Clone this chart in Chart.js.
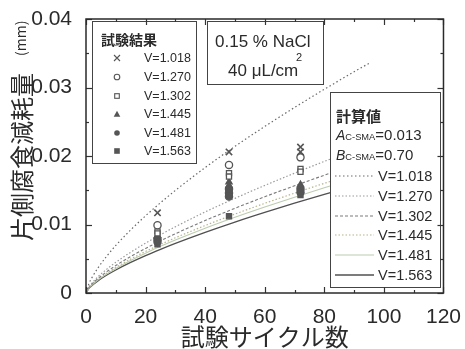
<!DOCTYPE html>
<html>
<head>
<meta charset="utf-8">
<script src="https://cdn.jsdelivr.net/npm/chart.js@4/dist/chart.umd.min.js"></script>
<style>
  html, body { margin: 0; padding: 0; background: #fff; }
  #wrap { width: 465px; height: 349px; }
</style>
</head>
<body>
<div id="wrap"><canvas id="c" width="465" height="349"></canvas></div>
<script>
// ---- axis ticks ----
const xTicks = [0, 20, 40, 60, 80, 100, 120];
const yTicks = [0, 0.01, 0.02, 0.03, 0.04];

// ---- test results (cycles, one-side corrosion loss in mm) ----
const seriesNames = ['V=1.018', 'V=1.270', 'V=1.302', 'V=1.445', 'V=1.481', 'V=1.563'];
const testV1018 = [[24, 0.0117], [48, 0.0206], [72, 0.0213], [72, 0.0206]];
const testV1270 = [[24, 0.0099], [48, 0.0187], [72, 0.0198]];
const testV1302 = [[24, 0.0090], [24, 0.0087], [48, 0.0175], [48, 0.0170], [72, 0.0181], [72, 0.0177]];
const testV1445 = [[24, 0.0084], [48, 0.0162], [48, 0.0157], [72, 0.0158]];
const testV1481 = [[24, 0.0079], [24, 0.0075], [48, 0.0152], [48, 0.0146], [48, 0.0141], [72, 0.0152], [72, 0.0147]];
const testV1563 = [[24, 0.0071], [48, 0.0112], [72, 0.0143]];

// ---- calculated curves ----
const calcCycles = [0, 1, 2, 4, 7, 10, 15, 20, 25, 30, 40, 50, 60, 70, 80, 90, 95];
const calcV1018 = [0, 0.00138, 0.00225, 0.00365, 0.00540, 0.00694, 0.00921, 0.01127, 0.01317, 0.01497, 0.01831, 0.02140, 0.02431, 0.02708, 0.02974, 0.03229, 0.03353];
const calcV1270 = [0, 0.00089, 0.00145, 0.00236, 0.00349, 0.00448, 0.00595, 0.00728, 0.00851, 0.00967, 0.01183, 0.01382, 0.01570, 0.01749, 0.01921, 0.02086, 0.02166];
const calcV1302 = [0, 0.00080, 0.00130, 0.00211, 0.00312, 0.00401, 0.00533, 0.00651, 0.00761, 0.00865, 0.01058, 0.01237, 0.01405, 0.01565, 0.01719, 0.01866, 0.01938];
const calcV1445 = [0, 0.00075, 0.00121, 0.00197, 0.00291, 0.00373, 0.00496, 0.00607, 0.00709, 0.00806, 0.00985, 0.01152, 0.01309, 0.01458, 0.01601, 0.01738, 0.01805];
const calcV1481 = [0, 0.00072, 0.00116, 0.00189, 0.00279, 0.00358, 0.00476, 0.00582, 0.00681, 0.00773, 0.00946, 0.01106, 0.01256, 0.01399, 0.01536, 0.01668, 0.01732];
const calcV1563 = [0, 0.00067, 0.00109, 0.00177, 0.00262, 0.00336, 0.00446, 0.00546, 0.00638, 0.00725, 0.00886, 0.01036, 0.01177, 0.01311, 0.01440, 0.01563, 0.01623];

const coefA = '0.013';
const coefB = '0.70';

const LATIN = '"Liberation Sans", Arial, sans-serif';
const CJK = '"Noto Sans CJK JP", "Liberation Sans", sans-serif';
const INK = '#2a2a2a';
const MARK = '#555';

const testSets = [testV1018, testV1270, testV1302, testV1445, testV1481, testV1563];
const markers = [
  { style: 'crossRot', fill: false },
  { style: 'circle', fill: false },
  { style: 'rect', fill: false },
  { style: 'triangle', fill: true },
  { style: 'circle', fill: true },
  { style: 'rect', fill: true }
];
const calcSets = [calcV1018, calcV1270, calcV1302, calcV1445, calcV1481, calcV1563];
const lineStyles = [
  { color: '#6a6a6a', dash: [1.5, 2.5], width: 1.2 },
  { color: '#9a9a9a', dash: [1.5, 2], width: 1.2 },
  { color: '#7a7a7a', dash: [3, 2], width: 1.1 },
  { color: '#b5b58a', dash: [1.5, 2], width: 1.2 },
  { color: '#bcccb0', dash: [], width: 1.1 },
  { color: '#505050', dash: [], width: 1.3 }
];

const datasets = [];
calcSets.forEach((vals, i) => {
  datasets.push({
    type: 'line',
    label: 'calc ' + seriesNames[i],
    data: calcCycles.map((t, k) => ({ x: t, y: vals[k] })),
    borderColor: lineStyles[i].color,
    borderDash: lineStyles[i].dash,
    borderWidth: lineStyles[i].width,
    pointRadius: 0,
    cubicInterpolationMode: 'monotone',
    fill: false,
    order: 2
  });
});
testSets.forEach((pts, i) => {
  datasets.push({
    type: 'scatter',
    label: 'test ' + seriesNames[i],
    data: pts.map(p => ({ x: p[0], y: p[1] })),
    pointStyle: markers[i].style,
    pointRadius: markers[i].style === 'crossRot' ? 4.5 : 3.6,
    pointBorderWidth: markers[i].style === 'crossRot' ? 1.6 : 1.3,
    pointBorderColor: MARK,
    pointBackgroundColor: markers[i].fill ? MARK : '#fff',
    order: 1
  });
});

function drawMarker(ctx, m, x, y, r) {
  ctx.save();
  ctx.strokeStyle = MARK; ctx.fillStyle = MARK; ctx.lineWidth = 1.1;
  ctx.beginPath();
  if (m.style === 'crossRot') {
    ctx.moveTo(x - r, y - r); ctx.lineTo(x + r, y + r);
    ctx.moveTo(x - r, y + r); ctx.lineTo(x + r, y - r);
    ctx.stroke();
  } else if (m.style === 'circle') {
    ctx.arc(x, y, r, 0, Math.PI * 2);
    m.fill ? ctx.fill() : ctx.stroke();
  } else if (m.style === 'rect') {
    m.fill ? ctx.fillRect(x - r, y - r, 2 * r, 2 * r) : ctx.strokeRect(x - r + 0.5, y - r + 0.5, 2 * r - 1, 2 * r - 1);
  } else if (m.style === 'triangle') {
    ctx.moveTo(x, y - r - 0.5); ctx.lineTo(x + r + 0.5, y + r); ctx.lineTo(x - r - 0.5, y + r); ctx.closePath();
    ctx.fill();
  }
  ctx.restore();
}

function box(ctx, x, y, w, h) {
  ctx.save();
  ctx.fillStyle = '#fff';
  ctx.fillRect(x, y, w, h);
  ctx.strokeStyle = '#444'; ctx.lineWidth = 1;
  ctx.strokeRect(x + 0.5, y + 0.5, w, h);
  ctx.restore();
}

const decor = {
  id: 'decor',
  afterDatasetsDraw(chart) {
    const { ctx, chartArea: a, scales: { x, y } } = chart;
    ctx.save();

    // left legend: test results
    box(ctx, 92, 21, 104, 142);
    ctx.fillStyle = INK;
    ctx.textBaseline = 'middle';
    ctx.textAlign = 'left';
    ctx.font = 'bold 14px ' + CJK;
    ctx.fillText('試験結果', 101, 40);
    ctx.font = '12.5px ' + LATIN;
    const rowsL = [58, 77, 96, 114, 133, 151];
    seriesNames.forEach((n, i) => {
      drawMarker(ctx, markers[i], 117, rowsL[i], markers[i].style === 'crossRot' ? 3 : 2.8);
      ctx.fillStyle = INK;
      ctx.fillText(n, 144, rowsL[i] + 0.5);
    });

    // condition box
    box(ctx, 207, 21, 116, 63);
    ctx.fillStyle = INK;
    ctx.font = '17px ' + LATIN;
    ctx.fillText('0.15 % NaCl', 215, 42);
    ctx.fillText('40 \u03bcL/cm', 228, 71);
    ctx.font = '11px ' + LATIN;
    ctx.fillText('2', 296, 58);

    // right legend: calculated values
    box(ctx, 330, 92, 110, 195);
    ctx.fillStyle = INK;
    ctx.font = 'bold 15px ' + CJK;
    ctx.fillText('計算値', 336, 116);
    const coefRow = (letter, val, yy) => {
      let cx = 336;
      ctx.font = 'italic 14px ' + LATIN;
      ctx.fillText(letter, cx, yy); cx += ctx.measureText(letter).width;
      ctx.font = '9.3px ' + LATIN;
      ctx.fillText('C-SMA', cx, yy + 1); cx += ctx.measureText('C-SMA').width;
      ctx.font = '15px ' + LATIN;
      ctx.fillText('=' + val, cx, yy);
    };
    coefRow('A', coefA, 136);
    coefRow('B', coefB, 156);
    const rowsR = [176, 196, 216, 235, 255, 275];
    ctx.font = '14.5px ' + LATIN;
    seriesNames.forEach((n, i) => {
      const s = lineStyles[i];
      ctx.save();
      ctx.strokeStyle = s.color; ctx.lineWidth = s.width; ctx.setLineDash(s.dash);
      ctx.beginPath(); ctx.moveTo(335, rowsR[i]); ctx.lineTo(374, rowsR[i]); ctx.stroke();
      ctx.restore();
      ctx.fillStyle = INK;
      ctx.fillText(n, 378, rowsR[i] + 0.5);
    });

    // inward ticks on all four sides
    ctx.strokeStyle = '#333'; ctx.lineWidth = 1.2;
    const seg = (x1, y1, x2, y2) => { ctx.beginPath(); ctx.moveTo(x1, y1); ctx.lineTo(x2, y2); ctx.stroke(); };
    for (let i = 0; i < xTicks.length; i++) {
      const px = Math.round(x.getPixelForValue(xTicks[i])) + 0.5;
      seg(px, a.bottom, px, a.bottom - 6); seg(px, a.top, px, a.top + 6);
      if (i < xTicks.length - 1) {
        const pm = Math.round(x.getPixelForValue((xTicks[i] + xTicks[i + 1]) / 2)) + 0.5;
        seg(pm, a.bottom, pm, a.bottom - 3); seg(pm, a.top, pm, a.top + 3);
      }
    }
    for (let i = 0; i < yTicks.length; i++) {
      const py = Math.round(y.getPixelForValue(yTicks[i])) + 0.5;
      seg(a.left, py, a.left + 6, py); seg(a.right, py, a.right - 6, py);
      if (i < yTicks.length - 1) {
        const pm = Math.round(y.getPixelForValue((yTicks[i] + yTicks[i + 1]) / 2)) + 0.5;
        seg(a.left, pm, a.left + 3, pm); seg(a.right, pm, a.right - 3, pm);
      }
    }
    // frame
    ctx.lineWidth = 1.5; ctx.strokeStyle = '#2a2a2a';
    ctx.strokeRect(a.left, a.top, a.right - a.left, a.bottom - a.top);

    // axis titles
    ctx.fillStyle = INK;
    ctx.textAlign = 'center';
    ctx.font = '24px ' + CJK;
    ctx.fillText('試験サイクル数', (a.left + a.right) / 2, 337);

    ctx.save();
    ctx.translate(22, 0);
    ctx.rotate(-Math.PI / 2);
    ctx.textAlign = 'left';
    ctx.font = '24px ' + CJK;
    ctx.fillText('片側腐食減耗量', -241, 0);
    ctx.font = '14px ' + CJK;
    ctx.fillText('(mm)', -56, -1);
    ctx.restore();

    ctx.restore();
  }
};

new Chart(document.getElementById('c'), {
  data: { datasets },
  options: {
    responsive: false,
    animation: false,
    events: [],
    layout: { padding: { top: 19, right: 18, left: 0, bottom: 0 } },
    plugins: { legend: { display: false }, tooltip: { enabled: false } },
    scales: {
      x: {
        type: 'linear', min: 0, max: 120,
        afterBuildTicks: s => { s.ticks = xTicks.map(v => ({ value: v })); },
        afterFit: s => { s.height = 56; },
        grid: { display: false }, border: { display: false },
        ticks: { color: INK, font: { family: LATIN, size: 21 }, padding: 4, maxRotation: 0,
                 callback: v => String(v) }
      },
      y: {
        type: 'linear', min: 0, max: 0.04,
        afterBuildTicks: s => { s.ticks = yTicks.map(v => ({ value: v })); },
        afterFit: s => { s.width = 86; },
        grid: { display: false }, border: { display: false },
        ticks: { color: INK, font: { family: LATIN, size: 21 }, padding: 6,
                 callback: v => (v === 0 ? '0' : v.toFixed(2)) }
      }
    }
  },
  plugins: [decor]
});
</script>
</body>
</html>
